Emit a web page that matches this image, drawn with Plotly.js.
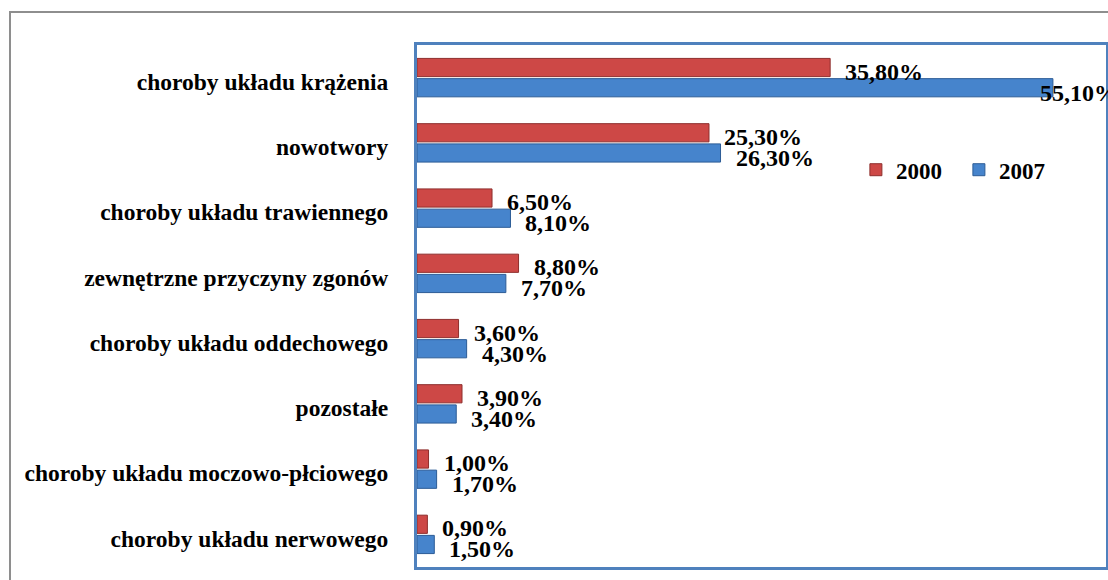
<!DOCTYPE html>
<html>
<head>
<meta charset="utf-8">
<script src="https://cdn.plot.ly/plotly-3.0.1.min.js"></script>
<style>
  html, body { margin: 0; padding: 0; background: #fff; }
  #wrap { position: relative; width: 1108px; height: 580px; overflow: hidden; }
  #chart { position: absolute; left: 0; top: 0; width: 1108px; height: 580px; }
  #frame { position: absolute; left: 9px; top: 11px; width: 1200px; height: 700px;
           border: 2px solid #8e8e8e; pointer-events: none; box-sizing: border-box; }
</style>
</head>
<body>
<div id="wrap">
  <div id="chart"></div>
  <div id="frame"></div>
</div>
<script>
const categories = [
  "choroby układu krążenia",
  "nowotwory",
  "choroby układu trawiennego",
  "zewnętrzne przyczyny zgonów",
  "choroby układu oddechowego",
  "pozostałe",
  "choroby układu moczowo-płciowego",
  "choroby układu nerwowego"
];
const values2000 = [35.8, 25.3, 6.5, 8.8, 3.6, 3.9, 1.0, 0.9];
const values2007 = [55.1, 26.3, 8.1, 7.7, 4.3, 3.4, 1.7, 1.5];
const seriesNames = ["2000", "2007"];

const FONT = "Liberation Serif";
const XMAX = 59.7;

function fmt(v) { return v.toFixed(2).replace(".", ",") + "%"; }

const traces = [
  {
    type: "bar", orientation: "h", name: seriesNames[0],
    y: categories, x: values2000,
    marker: { color: "#CD4846", line: { color: "#8E2E2C", width: 1 } },
    hoverinfo: "skip"
  },
  {
    type: "bar", orientation: "h", name: seriesNames[1],
    y: categories, x: values2007,
    marker: { color: "#4684CC", line: { color: "#2C5C96", width: 1 } },
    hoverinfo: "skip"
  }
];

const annotations = [];
function addLabels(vals, yshift) {
  vals.forEach((v, i) => {
    const near = v > XMAX * 0.85;
    annotations.push({
      x: v, y: categories[i], xref: "x", yref: "y",
      text: fmt(v), showarrow: false,
      xanchor: "left", yanchor: "middle",
      xshift: near ? -15 : 13, yshift: yshift,
      font: { family: FONT, size: 24, color: "#000", weight: "bold" }
    });
  });
}
addLabels(values2000, 6);
addLabels(values2007, -15);

const layout = {
  width: 1108, height: 580,
  margin: { l: 417, r: 2, t: 45, b: 13, pad: 0, autoexpand: false },
  paper_bgcolor: "#fff", plot_bgcolor: "#fff",
  barmode: "group", bargap: 0.38, bargroupgap: 0.1,
  showlegend: true,
  legend: {
    orientation: "h", x: 0.637, xanchor: "left", y: 0.761, yanchor: "middle",
    entrywidth: 58, entrywidthmode: "pixels",
    font: { family: FONT, size: 23, color: "#000", weight: "bold" },
    bgcolor: "rgba(0,0,0,0)"
  },
  xaxis: {
    range: [0, XMAX], showticklabels: false, showgrid: false, zeroline: false,
    showline: true, mirror: true, linecolor: "#4F81BD", linewidth: 3, ticks: "",
    fixedrange: true
  },
  yaxis: {
    type: "category", autorange: "reversed",
    showgrid: false, zeroline: false, ticks: "",
    showline: true, mirror: true, linecolor: "#4F81BD", linewidth: 3,
    ticklabelstandoff: 21, ticklabelshift: -4,
    tickfont: { family: FONT, size: 23.5, color: "#000", weight: "bold" },
    fixedrange: true
  },
  annotations: annotations
};

Plotly.newPlot("chart", traces, layout, { displayModeBar: false, staticPlot: true });
</script>
</body>
</html>
